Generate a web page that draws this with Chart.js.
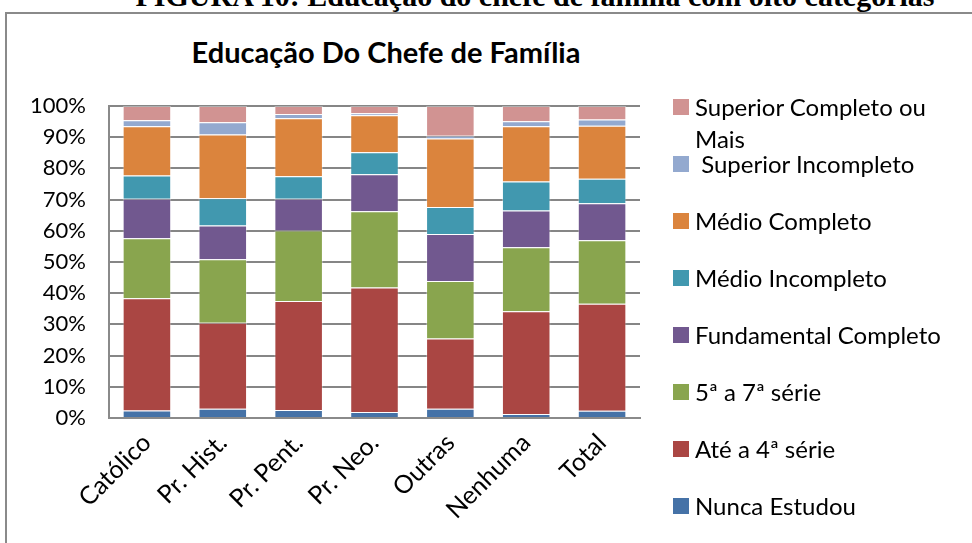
<!DOCTYPE html>
<html>
<head>
<meta charset="utf-8">
<script src="https://cdn.jsdelivr.net/npm/chart.js@4/dist/chart.umd.min.js"></script>
<style>
  html, body { margin:0; padding:0; width:972px; height:543px; overflow:hidden; background:#fff; }
  #frame { position:absolute; left:5px; top:12px; width:1000px; height:600px; border:2px solid #8a8a8a; box-sizing:border-box; }
  #caption { position:absolute; left:0; width:1070px; text-align:center; top:-19px; font-family:"Liberation Serif","DejaVu Serif",serif; font-weight:bold; font-size:30px; line-height:30px; color:#000; white-space:nowrap; }
  #title { position:absolute; left:136px; width:500px; top:34px; text-align:center; font-family:Lato,"Open Sans",sans-serif; font-weight:bold; font-size:29px; line-height:36px; color:#000; white-space:nowrap; }
  #wrap { position:absolute; left:0; top:0; width:972px; height:543px; }
  #legend { position:absolute; left:673px; top:0; font-family:Lato,"Open Sans",sans-serif; font-size:24px; color:#000; }
  .li { position:absolute; left:0; white-space:nowrap; }
  .sw { position:absolute; left:0; width:16px; height:16px; }
  .tx { position:absolute; left:22px; top:-8px; line-height:32px; white-space:pre; }
</style>
</head>
<body>
<div id="frame"></div>
<div id="caption">FIGURA 10: Educação do chefe de família com oito categorias</div>
<div id="title">Educação Do Chefe de Família</div>
<div id="wrap"><canvas id="c" width="972" height="543"></canvas></div>
<div id="legend"></div>
<script>
// ---- data (percent of each group) ----
const categories = ["Católico", "Pr. Hist.", "Pr. Pent.", "Pr. Neo.", "Outras", "Nenhuma", "Total"];
const seriesNames = ["Nunca Estudou", "Até a 4ª série", "5ª a 7ª série", "Fundamental Completo", "Médio Incompleto", "Médio Completo", " Superior Incompleto", "Superior Completo ou\nMais"];
const nuncaEstudou        = [2.4, 3.0, 2.6, 1.9, 3.0, 1.3, 2.3];
const ateQuartaSerie      = [36.0, 27.5, 34.9, 39.9, 22.5, 32.9, 34.3];
const quintaSetimaSerie   = [19.2, 20.4, 22.6, 24.5, 18.4, 20.5, 20.4];
const fundamentalCompleto = [12.7, 10.8, 10.2, 11.8, 15.1, 11.8, 11.8];
const medioIncompleto     = [7.4, 8.7, 7.2, 7.1, 8.6, 9.3, 7.9];
const medioCompleto       = [15.8, 20.5, 18.6, 11.8, 22.0, 17.7, 17.0];
const superiorIncompleto  = [1.9, 3.9, 1.3, 0.7, 0.9, 1.6, 2.0];
const superiorCompleto    = [4.6, 5.2, 2.6, 2.3, 9.5, 4.9, 4.3];
const yTickValues = [0, 10, 20, 30, 40, 50, 60, 70, 80, 90, 100];

const seriesValues = [nuncaEstudou, ateQuartaSerie, quintaSetimaSerie, fundamentalCompleto, medioIncompleto, medioCompleto, superiorIncompleto, superiorCompleto];
const colors = ["#4572A7", "#AA4643", "#89A54E", "#71588F", "#4198AF", "#DB843D", "#93A9CF", "#D19392"];

const FONT = 'Lato, "Open Sans", sans-serif';

const chart = new Chart(document.getElementById('c'), {
  type: 'bar',
  data: {
    labels: categories,
    datasets: seriesValues.map((vals, i) => ({
      label: seriesNames[i],
      data: vals,
      backgroundColor: colors[i],
      borderColor: 'rgba(255,255,255,0.35)',
      borderWidth: 1,
      categoryPercentage: 0.8,
      barPercentage: 0.8
    }))
  },
  options: {
    responsive: false,
    animation: false,
    devicePixelRatio: 1,
    layout: { padding: { top: 106, right: 332, left: 0, bottom: 0 } },
    plugins: { legend: { display: false }, title: { display: false }, tooltip: { enabled: false } },
    scales: {
      x: {
        stacked: true,
        grid: { display: false, drawTicks: false },
        border: { display: true, color: '#8a8a8a', width: 2 },
        ticks: { color: '#000', font: { family: FONT, size: 25 }, minRotation: 45, maxRotation: 45, padding: 10 },
        afterFit: (s) => { s.height = 125; }
      },
      y: {
        stacked: true,
        min: 0, max: 100,
        afterBuildTicks: (s) => { s.ticks = yTickValues.map(v => ({ value: v })); },
        grid: { color: '#868686', lineWidth: 2, drawTicks: false },
        border: { display: true, color: '#8a8a8a', width: 2 },
        ticks: { color: '#000', font: { family: FONT, size: 22 }, padding: 23, callback: (v) => v + '%' },
        afterFit: (s) => { s.width = 109; }
      }
    }
  }
});

// legend built from the chart's datasets (top series first)
const leg = document.getElementById('legend');
const ds = chart.data.datasets.slice().reverse();
ds.forEach((d, i) => {
  const item = document.createElement('div');
  item.className = 'li';
  item.style.top = (99 + i * 57) + 'px';
  const sw = document.createElement('div');
  sw.className = 'sw';
  sw.style.background = d.backgroundColor;
  const tx = document.createElement('div');
  tx.className = 'tx';
  tx.textContent = d.label;
  item.appendChild(sw); item.appendChild(tx);
  leg.appendChild(item);
});
</script>
</body>
</html>
